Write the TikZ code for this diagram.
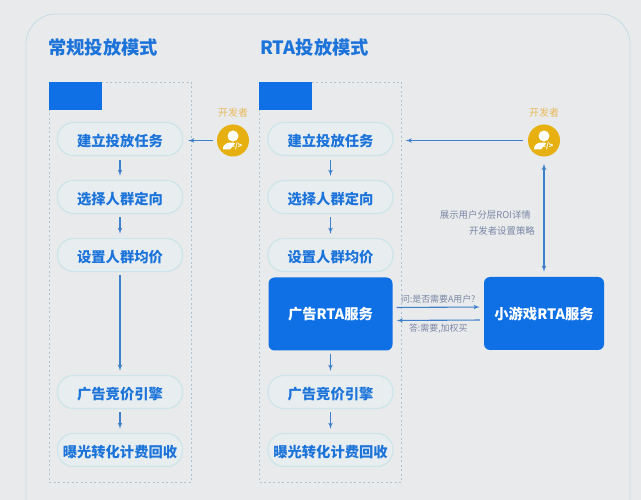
\documentclass[tikz,border=0pt]{standalone}
\usepackage{fontspec}
\setmainfont{Noto Sans CJK SC}
\usepackage{tikz}
\usetikzlibrary{shapes,arrows}
\definecolor{pagebg}{HTML}{E9EAEB}
\definecolor{frameline}{HTML}{C6DCE8}
\definecolor{dashline}{HTML}{AFC2D2}
\definecolor{mainblue}{HTML}{0F70E6}
\definecolor{textblue}{HTML}{1C74DA}
\definecolor{pillfill}{HTML}{E8EEF0}
\definecolor{pillline}{HTML}{CDE5E9}
\definecolor{flowline}{HTML}{3E80C9}
\definecolor{devgold}{HTML}{E6B010}
\definecolor{devtext}{HTML}{E8BA5C}
\definecolor{notetext}{HTML}{7A88A6}
\tikzstyle{pill} = [rectangle, draw=pillline, fill=pillfill, line width=1.3pt, text=textblue,
    font=\bfseries\fontsize{14.3}{16}\selectfont, minimum width=125pt, minimum height=33pt,
    text height=15pt, text depth=0pt, inner sep=0pt, rounded corners=16pt]
\tikzstyle{service} = [rectangle, fill=mainblue, text=white,
    font=\bfseries\fontsize{14.3}{16}\selectfont, minimum height=73pt,
    inner sep=0pt, rounded corners=6pt]
\tikzstyle{modebox} = [rectangle, draw=dashline, dash pattern=on 2pt off 2.5pt, line width=0.8pt,
    minimum width=142pt, minimum height=400pt, inner sep=0pt]
\tikzstyle{header} = [rectangle, fill=mainblue, anchor=north west, minimum width=53pt,
    minimum height=28pt, inner sep=0pt]
\tikzstyle{title} = [anchor=west, text=textblue, inner sep=0pt,
    font=\bfseries\fontsize{18.3}{20}\selectfont]
\tikzstyle{dev} = [circle, fill=devgold, minimum size=32pt, inner sep=0pt]
\tikzstyle{devlabel} = [text=devtext, inner sep=0pt, font=\fontsize{10}{12}\selectfont]
\tikzstyle{note} = [text=notetext, inner sep=0pt, font=\fontsize{9.4}{11}\selectfont]
\tikzstyle{line} = [draw=flowline, line width=1.1pt, -latex']

\begin{document}
\begin{tikzpicture}[x=1pt, y=1pt, node distance=58pt]

    \clip (0,0) rectangle (641,-500);
    \fill [pagebg] (0,0) rectangle (641,-500);
    \draw [frameline, line width=0.9pt, rounded corners=30pt] (26,-14) rectangle (630,-530);

    % Place frames
    \node [modebox] (boxA) at (120,-282) {};
    \node [modebox] (boxB) at (330.5,-282) {};
    \node [header] (headA) at (boxA.north west) {};
    \node [header] (headB) at (boxB.north west) {};
    \node [title] (titleA) at (48,-48) {常规投放模式};
    \node [title] (titleB) at (260,-48) {RTA投放模式};

    % Place nodes
    \node [pill] (A1) at (120,-139) {建立投放任务};
    \node [pill, below of=A1] (A2) {选择人群定向};
    \node [pill, below of=A2] (A3) {设置人群均价};
    \node [pill, below of=A3, node distance=137pt] (A4) {广告竞价引擎};
    \node [pill, below of=A4] (A5) {曝光转化计费回收};

    \node [pill] (B1) at (330.5,-139) {建立投放任务};
    \node [pill, below of=B1] (B2) {选择人群定向};
    \node [pill, below of=B2] (B3) {设置人群均价};
    \node [service, minimum width=124pt, below of=B3, node distance=59pt] (B4) {广告RTA服务};
    \node [pill, below of=B4, node distance=78pt] (B5) {广告竞价引擎};
    \node [pill, below of=B5] (B6) {曝光转化计费回收};

    \node [service, minimum width=120pt] (game) at (544,-313.5) {小游戏RTA服务};

    \node [dev] (devA) at (233,-140.5) {};
    \node [dev] (devB) at (544,-140.5) {};
    \node [devlabel] (labelA) at (233,-113) {开发者};
    \node [devlabel] (labelB) at (544,-113) {开发者};

    \node [note, anchor=east] (noteA) at (531,-215) {展示用户分层ROI详情};
    \node [note, anchor=east] (noteB) at (535,-231) {开发者设置策略};

    % Developer icons
    \foreach \d in {devA,devB} {
        \fill [white] ([yshift=4.5pt]\d.center) circle (5.5pt);
        \fill [white] ([shift={(-10pt,-9pt)}]\d.center) .. controls ([shift={(-10pt,-2pt)}]\d.center) and ([shift={(-4pt,-2pt)}]\d.center) .. ([shift={(0pt,-2pt)}]\d.center)
            -- ([shift={(2pt,-3pt)}]\d.center) -- ([shift={(-3pt,-9pt)}]\d.center) -- cycle;
        \node [text=white, inner sep=0pt, font=\bfseries\fontsize{7.5}{8}\selectfont] (code\d) at ([shift={(3.5pt,-5.5pt)}]\d.center) {</>};
    }

    % Draw edges
    \path [line, shorten <=4pt, shorten >=4pt] (A1) -- (A2);
    \path [line, shorten <=3pt, shorten >=4pt] (A2) -- (A3);
    \path [line, shorten <=3pt, shorten >=4pt] (A3) -- (A4);
    \path [line, shorten <=3pt, shorten >=4pt] (A4) -- (A5);
    \path [line, shorten <=4pt, shorten >=4pt] (B1) -- (B2);
    \path [line, shorten <=3pt, shorten >=4pt] (B2) -- (B3);
    \path [line, shorten <=3pt, shorten >=4pt] (B4) -- (B5);
    \path [line, shorten <=3pt, shorten >=4pt] (B5) -- (B6);
    \path [line, shorten <=4pt, shorten >=5pt] (devA) -- (A1.east |- devA);
    \path [line, shorten <=5pt, shorten >=12pt] (devB) -- (B1.east |- devB);
    \path [line, latex'-latex', shorten <=7pt, shorten >=5pt] (devB) -- (game);
    \path [line, shorten <=4pt, shorten >=4pt] ([yshift=6.5pt]B4.east) -- node [note, above=3pt, font=\fontsize{8.9}{10}\selectfont] (ask) {问:是否需要A用户?} ([yshift=6.5pt]game.west);
    \path [line, shorten <=4pt, shorten >=4pt] ([yshift=-6.5pt]game.west) -- node [note, below=3pt, font=\fontsize{8.9}{10}\selectfont] (reply) {答:需要,加权买} ([yshift=-6.5pt]B4.east);

\end{tikzpicture}
\end{document}
